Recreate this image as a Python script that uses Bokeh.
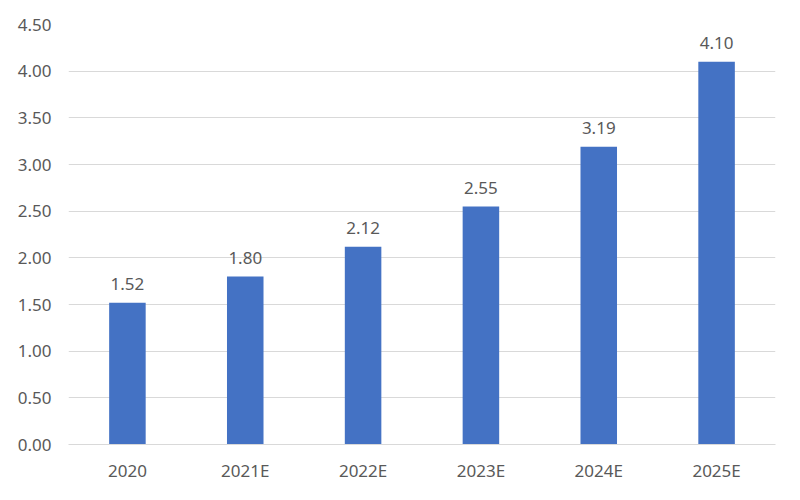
from bokeh.plotting import figure
from bokeh.models import ColumnDataSource, FixedTicker, Range1d, NumeralTickFormatter, LabelSet
from bokeh.core.properties import value
from bokeh.embed import file_html
from bokeh.resources import INLINE

categories = ["2020", "2021E", "2022E", "2023E", "2024E", "2025E"]
values = [1.52, 1.80, 2.12, 2.55, 3.19, 4.10]
labels = ["1.52", "1.80", "2.12", "2.55", "3.19", "4.10"]
y_ticks = [0, 0.5, 1.0, 1.5, 2.0, 2.5, 3.0, 3.5, 4.0, 4.5]

src = ColumnDataSource(dict(cat=categories, val=values, lab=labels))

FONT = "Noto Sans"
GRAY = "#595959"

p = figure(x_range=categories, y_range=Range1d(0, 4.5), width=784, height=484,
           output_backend="svg", toolbar_location=None,
           min_border_left=68, min_border_right=9, min_border_top=24, min_border_bottom=40)
p.outline_line_color = None
p.vbar(x="cat", top="val", width=0.31, source=src, color="#4472C4", line_color=None)

p.add_layout(LabelSet(x="cat", y="val", text="lab", source=src, text_align="center",
                      text_baseline="bottom", y_offset=13, text_font=value(FONT),
                      text_font_size="17px", text_color=GRAY))

p.yaxis.ticker = FixedTicker(ticks=y_ticks)
p.yaxis.formatter = NumeralTickFormatter(format="0.00")
p.yaxis.axis_line_color = None
p.yaxis.major_tick_line_color = None
p.yaxis.major_tick_out = 0
p.yaxis.minor_tick_line_color = None
p.yaxis.major_label_standoff = 17
p.xaxis.axis_line_color = "#D9D9D9"
p.xaxis.major_tick_line_color = None
p.xaxis.major_tick_out = 0
p.xaxis.major_label_standoff = 14
for ax in (p.xaxis, p.yaxis):
    ax.major_label_text_font = FONT
    ax.major_label_text_font_size = "17px"
    ax.major_label_text_color = GRAY
p.xgrid.grid_line_color = None
p.ygrid.grid_line_color = "#D9D9D9"
p.ygrid.grid_line_width = 1
p.x_range.range_padding = 0

open("out.html", "w").write(file_html(p, INLINE))
